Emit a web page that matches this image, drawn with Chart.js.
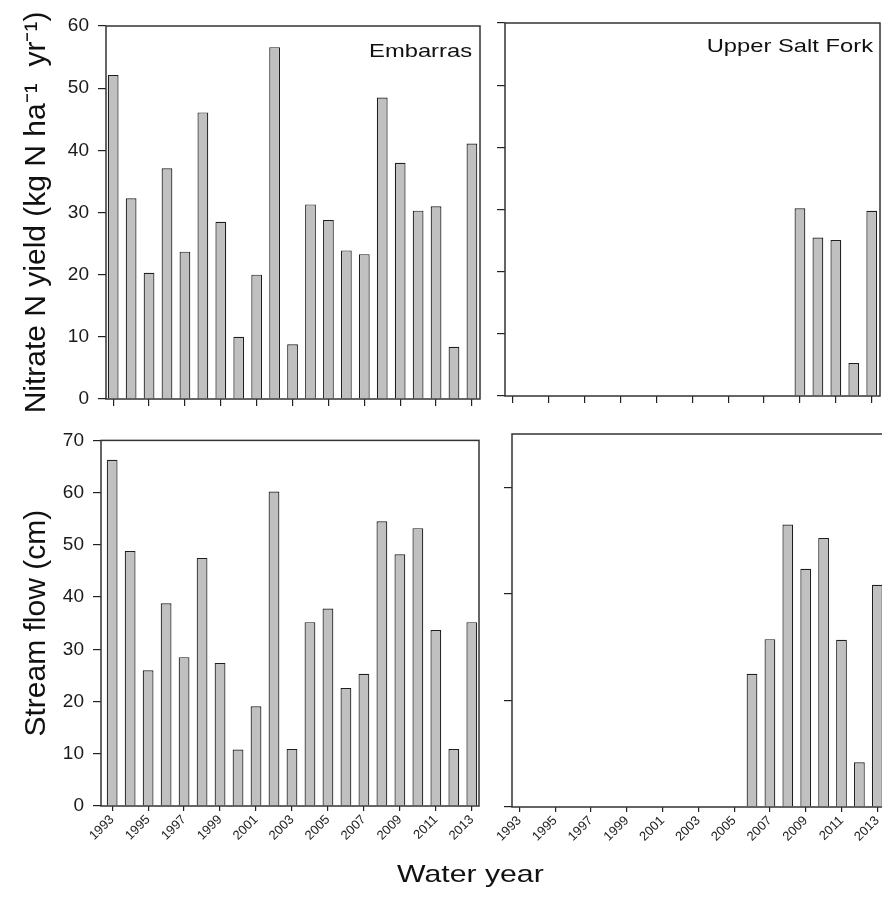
<!DOCTYPE html>
<html>
<head>
<meta charset="utf-8">
<script src="https://cdn.jsdelivr.net/npm/chart.js@4.4.0/dist/chart.umd.min.js"></script>
<style>
  html, body { margin: 0; padding: 0; background: #fff; overflow: hidden; }
  body { width: 882px; height: 898px; position: relative; }
  canvas { position: absolute; }
  #xtitle {
    position: absolute; left: 397px; top: 862px;
    font: 24px 'Liberation Sans', Arial, sans-serif; line-height: 24px;
    color: #111; white-space: nowrap;
    transform: scaleX(1.26); transform-origin: left top;
  }
</style>
</head>
<body>
<canvas id="tl" width="490" height="420" style="left:0;top:0"></canvas>
<canvas id="tr" width="392" height="420" style="left:490px;top:0"></canvas>
<canvas id="bl" width="490" height="478" style="left:0;top:420px"></canvas>
<canvas id="br" width="400" height="478" style="left:490px;top:420px"></canvas>
<div id="xtitle">Water year</div>
<script>
// water years and values
const years = [1993, 1994, 1995, 1996, 1997, 1998, 1999, 2000, 2001, 2002, 2003,
               2004, 2005, 2006, 2007, 2008, 2009, 2010, 2011, 2012, 2013];
const tickYears = [1993, 1995, 1997, 1999, 2001, 2003, 2005, 2007, 2009, 2011, 2013];

const embarrasNitrate = [52.1, 32.3, 20.3, 37.1, 23.7, 46.1, 28.5, 10.0, 20.0, 56.6, 8.8,
                         31.3, 28.8, 23.9, 23.3, 48.5, 38.0, 30.3, 31.0, 8.4, 41.1];
const saltForkNitrate = [null, null, null, null, null, null, null, null, null, null, null,
                         null, null, null, null, null, 30.2, 25.5, 25.1, 5.3, 29.8];
const embarrasFlow = [66.3, 48.8, 26.0, 38.8, 28.5, 47.5, 27.4, 10.8, 19.1, 60.2, 10.9,
                      35.2, 37.8, 22.6, 25.3, 54.5, 48.2, 53.2, 33.7, 10.9, 35.2];
const saltForkFlow = [null, null, null, null, null, null, null, null, null, null, null,
                      null, null, 25.0, 31.5, 53.0, 44.7, 50.5, 31.4, 8.4, 41.7];

const nitrateTicks = [0, 10, 20, 30, 40, 50, 60];
const flowTicks = [0, 10, 20, 30, 40, 50, 60, 70];
const flowTicksRight = [0, 20, 40, 60];

const FONT = "'Liberation Sans', Arial, sans-serif";

function toPoints(values) {
  return years.map((yr, i) => ({ x: yr, y: values[i] })).filter(p => p.y !== null);
}

// frame around the plot area + panel name in the upper right corner
const boxPlugin = {
  id: 'panelBox',
  afterDraw(chart, args, opts) {
    const { ctx, chartArea: a } = chart;
    ctx.save();
    ctx.strokeStyle = '#333';
    ctx.lineWidth = 1.5;
    ctx.strokeRect(a.left, a.top, a.right - a.left, a.bottom - a.top);
    if (opts.label) {
      ctx.font = '19px ' + FONT;
      ctx.fillStyle = '#111';
      ctx.textAlign = 'right';
      ctx.textBaseline = 'alphabetic';
      ctx.translate(a.right - opts.dx, a.top + opts.dy);
      ctx.scale(1.25, 1);
      ctx.fillText(opts.label, 0, 0);
    }
    ctx.restore();
  }
};

function panel(id, o) {
  return new Chart(document.getElementById(id), {
    type: 'bar',
    data: {
      datasets: [{
        data: toPoints(o.values),
        backgroundColor: '#c0c0c0',
        borderColor: '#1e1e1e',
        borderWidth: 1.2,
        categoryPercentage: 1,
        barPercentage: 0.6
      }]
    },
    options: {
      responsive: false,
      animation: false,
      events: [],
      layout: { padding: o.padding },
      plugins: {
        legend: { display: false },
        tooltip: { enabled: false },
        panelBox: { label: o.label, dx: o.labelDx, dy: o.labelDy }
      },
      scales: {
        x: {
          type: 'linear',
          offset: false,
          min: o.xMin,
          max: o.xMax,
          afterBuildTicks: s => { s.ticks = tickYears.map(v => ({ value: v })); },
          afterFit: s => { s.height = o.xHeight; },
          border: { display: false },
          grid: { offset: false, drawOnChartArea: false, tickLength: o.xTickLen, color: '#222', lineWidth: 1.2 },
          ticks: {
            display: o.xLabels,
            autoSkip: false,
            minRotation: 45,
            maxRotation: 45,
            padding: 1,
            color: '#222',
            font: { family: FONT, size: 13 },
            callback: v => String(v)
          }
        },
        y: {
          min: 0,
          max: o.yMax,
          afterBuildTicks: s => { s.ticks = o.yTicks.map(v => ({ value: v })); },
          afterFit: s => { s.width = o.yWidth; },
          border: { display: false },
          grid: { drawOnChartArea: false, tickLength: 8, color: '#222', lineWidth: 1.2 },
          ticks: {
            display: o.yLabels,
            padding: 9,
            color: '#1a1a1a',
            font: { family: FONT, size: 19 }
          },
          title: {
            display: !!o.yTitle,
            text: o.yTitle,
            color: '#111',
            font: { family: FONT, size: 30 },
            padding: { top: 19, bottom: 0 }
          }
        }
      }
    },
    plugins: [boxPlugin]
  });
}

panel('tl', {
  values: embarrasNitrate, label: 'Embarras', labelDx: 8, labelDy: 31,
  padding: { top: 26, right: 10, left: 0, bottom: 0 },
  xMin: 1992.6, xMax: 2013.45, xHeight: 21, xTickLen: 7, xLabels: false,
  yMax: 60, yTicks: nitrateTicks, yWidth: 106, yLabels: true,
  yTitle: 'Nitrate N yield (kg N ha\u207B\u00B9  yr\u207B\u00B9)'
});

panel('tr', {
  values: saltForkNitrate, label: 'Upper Salt Fork', labelDx: 7, labelDy: 29,
  padding: { top: 23, right: 2, left: 0, bottom: 0 },
  xMin: 1992.57, xMax: 2013.46, xHeight: 24, xTickLen: 7, xLabels: false,
  yMax: 60, yTicks: nitrateTicks, yWidth: 15, yLabels: false
});

panel('bl', {
  values: embarrasFlow,
  padding: { top: 13, right: 11, left: 0, bottom: 0 },
  xMin: 1992.38, xMax: 2013.4, xHeight: 92, xTickLen: 5, xLabels: true,
  yMax: 70, yTicks: flowTicks, yWidth: 101, yLabels: true,
  yTitle: 'Stream flow (cm)'
});

panel('br', {
  values: saltForkFlow,
  padding: { top: 14, right: 0, left: 0, bottom: 0 },
  xMin: 1992.59, xMax: 2013.71, xHeight: 91, xTickLen: 5, xLabels: true,
  yMax: 70, yTicks: flowTicksRight, yWidth: 22, yLabels: false
});
</script>
</body>
</html>
